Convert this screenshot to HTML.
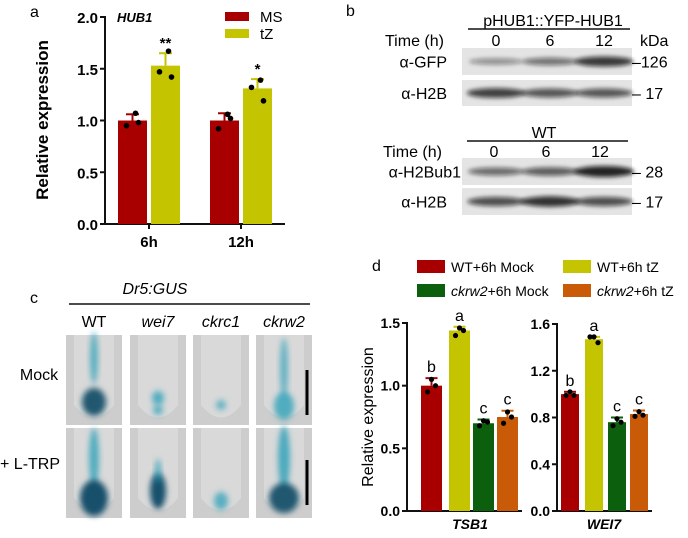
<!DOCTYPE html>
<html><head><meta charset="utf-8"><style>
html,body{margin:0;padding:0;background:#fff;}
svg{display:block;font-family:"Liberation Sans",Arial,sans-serif;}
</style></head><body>
<svg id="fig" width="688" height="538" viewBox="0 0 688 538" xmlns="http://www.w3.org/2000/svg">
<defs>
<filter id="blur2" x="-30%" y="-100%" width="160%" height="300%"><feGaussianBlur stdDeviation="2.2"/></filter>
<filter id="blur4" x="-50%" y="-50%" width="200%" height="200%"><feGaussianBlur stdDeviation="3"/></filter>
</defs>
<g id="pa"></g>
<g id="pb"></g>
<g id="pc"></g>
<g id="pd"></g>
</svg>
<script>
// Panel a data
const aGroups = ['6h','12h'];
const aMS = [1.00, 1.00];
const aTZ = [1.53, 1.31];
const aMSerr = [0.06, 0.07];
const aTZerr = [0.12, 0.09];
const aMSdots = [[1.07,0.95,0.98],[1.06,0.92,1.02]];
const aTZdots = [[1.67,1.47,1.42],[1.39,1.32,1.19]];
const aSig = ['**','*'];
const aTicks = [0,0.5,1.0,1.5,2.0];
// Panel d data
const dGenes = ['TSB1','WEI7'];
const dSeries = ['WT+6h Mock','WT+6h tZ','ckrw2+6h Mock','ckrw2+6h tZ'];
const dTSB1 = [1.00,1.44,0.70,0.75];
const dTSB1err = [0.06,0.03,0.03,0.05];
const dTSB1dots = [[1.05,0.95,1.0],[1.46,1.40,1.44],[0.72,0.68,0.71],[0.79,0.70,0.75]];
const dWEI7 = [1.00,1.47,0.76,0.83];
const dWEI7err = [0.02,0.02,0.04,0.03];
const dWEI7dots = [[1.02,0.99,0.99],[1.49,1.49,1.44],[0.79,0.73,0.76],[0.85,0.81,0.82]];
const dLetters = [['b','a','c','c'],['b','a','c','c']];
const dTicks1 = [0,0.5,1.0,1.5];
const dTicks2 = [0,0.4,0.8,1.2,1.6];
const colors = ['#a80000','#c4c400','#0c5f0c','#c85a08'];

const NS='http://www.w3.org/2000/svg';
function mk(parent,tag,attrs,text){const e=document.createElementNS(NS,tag);for(const k in attrs)e.setAttribute(k,attrs[k]);if(text!==undefined)e.textContent=text;parent.appendChild(e);return e;}

// ---------- Panel a ----------
(function(){
const g=document.getElementById('pa');
const y0=224,y1=17,vmax=2.0;const y=v=>y0-(y0-y1)*v/vmax;
let t=mk(g,'text',{x:30,y:17,'font-size':16},'a');

t=mk(g,'text',{x:0,y:0,'font-size':17,'font-weight':'bold','text-anchor':'middle',transform:'translate(48,120) rotate(-90)'},'Relative expression');

let l=mk(g,'line',{x1:105,y1:y1-1,x2:105,y2:y0,stroke:'#111','stroke-width':2});

l=mk(g,'line',{x1:104,y1:y0,x2:285,y2:y0,stroke:'#111','stroke-width':2});

aTicks.forEach(v=>{const tk=mk(g,'line',{x1:100,y1:y(v),x2:105,y2:y(v),stroke:'#111','stroke-width':2});

const tl=mk(g,'text',{x:98,y:y(v)+6,'font-size':15,'font-weight':'bold','text-anchor':'end'},v.toFixed(1));
});
const t2=mk(g,'text',{x:117,y:22,'font-size':13,'font-weight':'bold','font-style':'italic'},'HUB1');

const centers=[149,241];
aGroups.forEach((grp,i)=>{
 const c=centers[i];
 [[aMS,aMSerr,aMSdots,colors[0],c-31],[aTZ,aTZerr,aTZdots,colors[1],c+2]].forEach((s,j)=>{
  const v=s[0][i],e=s[1][i],x=s[4];
  const el=mk(g,'line',{x1:x+14.5,y1:y(v),x2:x+14.5,y2:y(v+e),stroke:s[3],'stroke-width':2});
  
  const ec=mk(g,'line',{x1:x+8,y1:y(v+e),x2:x+21,y2:y(v+e),stroke:s[3],'stroke-width':2});
  
  const r=mk(g,'rect',{x:x,y:y(v),width:29,height:y0-y(v),fill:s[3]});
  
  const offs=[3,-6,6];
  s[2][i].forEach((d,k)=>{const p=mk(g,'circle',{cx:x+14.5+offs[k],cy:y(d),r:2.8,fill:'#000'});
  });
  if(j===1){const st=mk(g,'text',{x:x+14.5,y:y(v+e)-5,'font-size':15,'font-weight':'bold','text-anchor':'middle'},aSig[i]);
  }
 });
 const xt=mk(g,'line',{x1:c,y1:y0,x2:c,y2:y0+5,stroke:'#111','stroke-width':2});
 
 const xl=mk(g,'text',{x:c,y:y0+23,'font-size':15,'font-weight':'bold','text-anchor':'middle'},grp);
 
});
[['MS',colors[0],12],['tZ',colors[1],29]].forEach(s=>{
 const r=mk(g,'rect',{x:225,y:s[2],width:24,height:9,fill:s[1]});
 
 const lt=mk(g,'text',{x:260,y:s[2]+10,'font-size':15},s[0]);
 
});
})();

// ---------- Panel b ----------
(function(){
const g=document.getElementById('pb');
function txt(x,y,s,name,opt){const t=mk(g,'text',Object.assign({x:x,y:y,'font-size':16},opt||{}),s);return t;}
txt(346,16,'b','panel-b-label',{'font-size':16});
txt(553,26,'pHUB1::YFP-HUB1','construct-label',{'text-anchor':'middle'});
let l=mk(g,'line',{x1:468,y1:29,x2:630,y2:29,stroke:'#111','stroke-width':1.5});
txt(385,46,'Time (h)','time-label');
['0','6','12'].forEach((s,i)=>txt([496,550,604][i],46,s,'time-point',{'text-anchor':'middle'}));
txt(640,46,'kDa','kda-label');
txt(544,138,'WT','wt-label',{'text-anchor':'middle'});
l=mk(g,'line',{x1:467,y1:141,x2:628,y2:141,stroke:'#111','stroke-width':1.5});
txt(383,157,'Time (h)','time-label');
['0','6','12'].forEach((s,i)=>txt([494,546,600][i],157,s,'time-point',{'text-anchor':'middle'}));
const blots=[
 {y:48,h:27,label:'α-GFP',lx:447,kda:'126',int:[0.25,0.45,0.85],name:'blot-gfp'},
 {y:80,h:26,label:'α-H2B',lx:447,kda:'17',int:[0.8,0.65,0.65],name:'blot-h2b-1'},
 {y:158,h:27,label:'α-H2Bub1',lx:461,kda:'28',int:[0.5,0.6,1.0],name:'blot-h2bub1'},
 {y:188,h:27,label:'α-H2B',lx:447,kda:'17',int:[0.7,0.9,0.7],name:'blot-h2b-2'}];
blots.forEach(b=>{
 const r=mk(g,'rect',{x:462,y:b.y,width:170,height:b.h,fill:'#e4e4e4'});
 
 b.int.forEach((v,i)=>{const e=mk(g,'ellipse',{cx:[496,550,604][i],cy:b.y+b.h/2,rx:26+4*v,ry:2.5+3*v,fill:'#111','fill-opacity':0.25+0.65*v,filter:'url(#blur2)'});
 });
 txt(b.lx,b.y+b.h/2+6,b.label,'blot-label',{'text-anchor':'end'});
 txt(632,b.y+b.h/2+6,'–'+(b.kda.length<3?' ':'')+b.kda,'kda-marker');
});
})();

// ---------- Panel c ----------
(function(){
const g=document.getElementById('pc');
function txt(x,y,s,name,opt){const t=mk(g,'text',Object.assign({x:x,y:y,'font-size':16},opt||{}),s);return t;}
txt(30,303,'c','panel-c-label',{'font-size':16});
txt(155,294,'Dr5:GUS','reporter-label',{'text-anchor':'middle','font-style':'italic'});
const l=mk(g,'line',{x1:69,y1:304,x2:310,y2:304,stroke:'#111','stroke-width':1.5});
const cols=[66,130,193,256],names=['WT','wei7','ckrc1','ckrw2'];
names.forEach((n,i)=>txt(cols[i]+28,327,n,'genotype-label',{'text-anchor':'middle','font-style':i?'italic':'normal'}));
txt(39,380,'Mock','treatment-label',{'text-anchor':'middle'});
txt(0,469,'+ L-TRP','treatment-label');
const rows=[335,428];
// [cx offset, cy offset, rx, ry, darkness]
const blobs=[
 [[[0,-22,4,26,0.5],[0,22,12,14,0.9]],[[0,18,6,7,0.6],[0,30,5,5,0.5]],[[0,25,5,5,0.4]],[[0,-12,4,30,0.4],[0,26,10,14,0.6]]],
 [[[0,-15,5,30,0.6],[0,25,14,18,1]],[[0,18,8,18,1],[0,-2,3,12,0.5]],[[0,28,7,9,0.5]],[[0,-15,6,32,0.7],[0,25,15,15,0.9]]]];
rows.forEach((ry,r)=>cols.forEach((cx,c)=>{
 const rc=mk(g,'rect',{x:cx,y:ry,width:56,height:90,fill:'#cdcdcd'});
 
 const rt=mk(g,'path',{d:`M${cx+8} ${ry} L${cx+8} ${ry+70} Q${cx+28} ${ry+95} ${cx+48} ${ry+70} L${cx+48} ${ry}Z`,fill:'#d9d9d9'});
 
 blobs[r][c].forEach(b=>{const e=mk(g,'ellipse',{cx:cx+28+b[0],cy:ry+45+b[1],rx:b[2],ry:b[3],fill:b[4]>0.8?'#0e4a66':'#2a9fb8','fill-opacity':0.5+0.45*b[4],filter:'url(#blur4)'});
 });
}));
[[370,415],[460,505]].forEach(s=>{const sb=mk(g,'line',{x1:307,y1:s[0],x2:307,y2:s[1],stroke:'#000','stroke-width':3});
});
})();

// ---------- Panel d ----------
(function(){
const g=document.getElementById('pd');
function txt(x,y,s,name,opt){const t=mk(g,'text',Object.assign({x:x,y:y,'font-size':14},opt||{}),s);return t;}
txt(372,271,'d','panel-d-label',{'font-size':16});
const lg=[[417,260],[563,260],[417,284],[563,284]];
dSeries.forEach((s,i)=>{const r=mk(g,'rect',{x:lg[i][0],y:lg[i][1],width:28,height:13,fill:colors[i]});

const t=mk(g,'text',{x:lg[i][0]+34,y:lg[i][1]+12,'font-size':14});

if(s.startsWith('ckrw2')){mk(t,'tspan',{'font-style':'italic'},'ckrw2');mk(t,'tspan',{},s.slice(5));}else t.textContent=s;});
txt(0,0,'Relative expression','y-axis-title',{'font-size':16,'text-anchor':'middle',transform:'translate(373,417) rotate(-90)'});
const charts=[
 {ax:407,top:323,max:1.5,ticks:dTicks1,vals:dTSB1,err:dTSB1err,dots:dTSB1dots,bars:[421,449,473,497],w:21,lab:'TSB1',lx:470,letters:dLetters[0]},
 {ax:557,top:324,max:1.6,ticks:dTicks2,vals:dWEI7,err:dWEI7err,dots:dWEI7dots,bars:[561,585,608,630],w:18,lab:'WEI7',lx:604,letters:dLetters[1]}];
const y0=511;
charts.forEach(ch=>{
 const y=v=>y0-(y0-ch.top)*v/ch.max;
 let l=mk(g,'line',{x1:ch.ax,y1:ch.top-1,x2:ch.ax,y2:y0,stroke:'#111','stroke-width':2});
 l=mk(g,'line',{x1:ch.ax-1,y1:y0,x2:ch.bars[3]+ch.w+4,y2:y0,stroke:'#111','stroke-width':2});
 ch.ticks.forEach(v=>{const tk=mk(g,'line',{x1:ch.ax-5,y1:y(v),x2:ch.ax,y2:y(v),stroke:'#111','stroke-width':2});
 txt(ch.ax-7,y(v)+5,v.toFixed(1),'y-tick-label',{'font-size':14,'font-weight':'bold','text-anchor':'end'});});
 ch.vals.forEach((v,i)=>{const x=ch.bars[i],e=ch.err[i],cx=x+ch.w/2;
  const el=mk(g,'line',{x1:cx,y1:y(v),x2:cx,y2:y(v+e),stroke:colors[i],'stroke-width':2});
  const ec=mk(g,'line',{x1:cx-6,y1:y(v+e),x2:cx+6,y2:y(v+e),stroke:colors[i],'stroke-width':2});
  const r=mk(g,'rect',{x:x,y:y(v),width:ch.w,height:y0-y(v),fill:colors[i]});
  const offs=[0,-4,4];ch.dots[i].forEach((d,k)=>{const p=mk(g,'circle',{cx:cx+offs[k],cy:y(d),r:2.6,fill:'#000'});});
  txt(cx,y(v+e)-6,ch.letters[i],'significance-letter',{'font-size':16,'text-anchor':'middle'});
 });
 txt(ch.lx,529,ch.lab,'x-tick-label',{'font-size':14,'font-weight':'bold','font-style':'italic','text-anchor':'middle'});
});
})();
</script>
</body></html>
